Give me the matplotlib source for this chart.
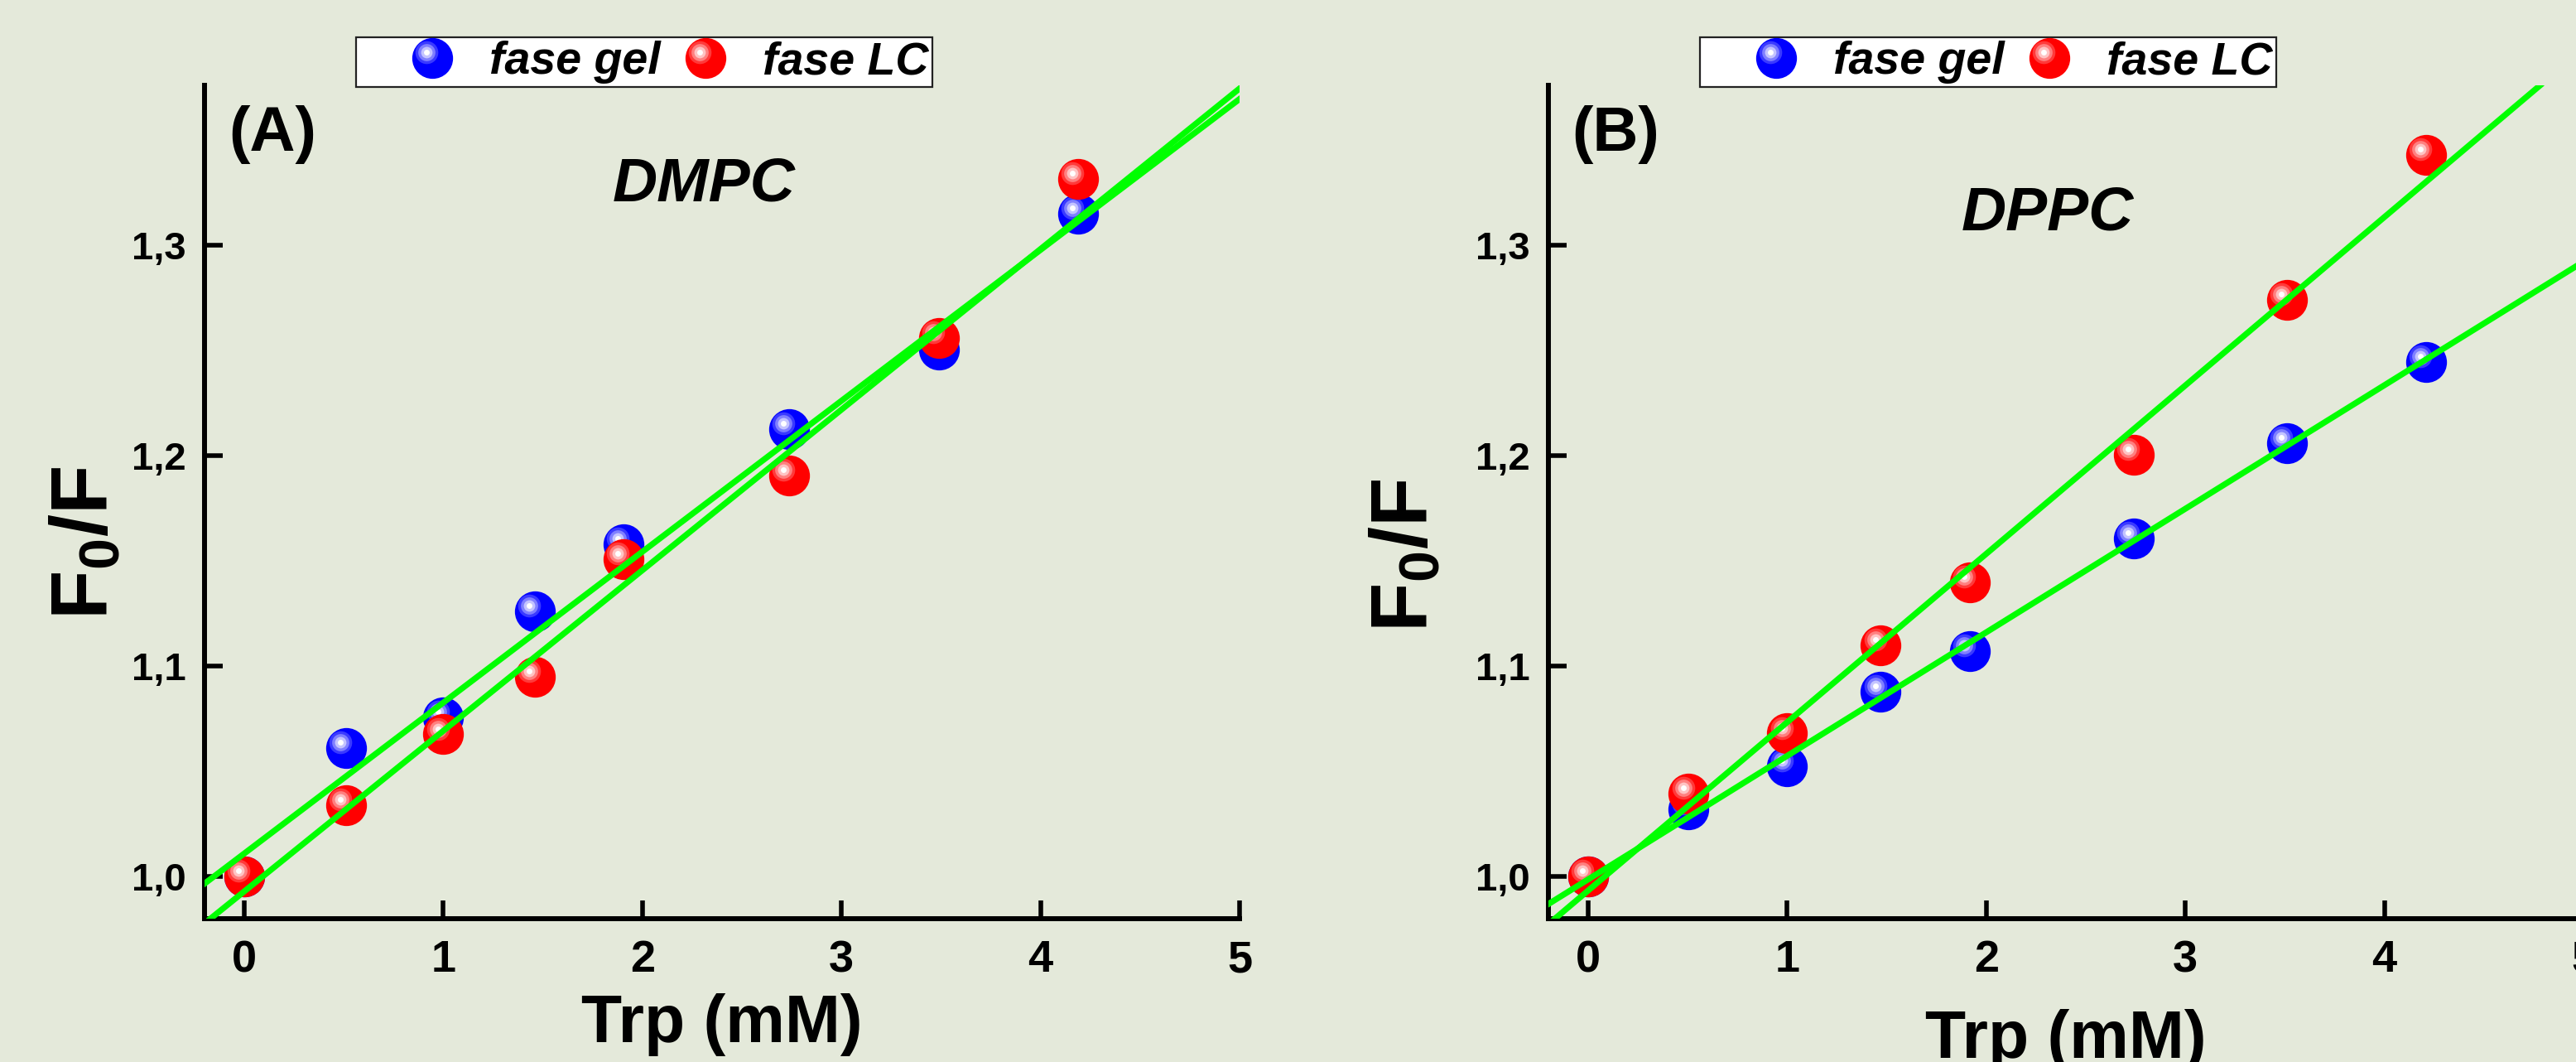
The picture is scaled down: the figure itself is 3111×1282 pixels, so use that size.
import matplotlib
matplotlib.use('Agg')
import matplotlib.pyplot as plt
from matplotlib.lines import Line2D
from matplotlib.legend_handler import HandlerBase
from matplotlib.transforms import offset_copy

plt.rcParams['font.family'] = ['Liberation Sans', 'DejaVu Sans']
plt.rcParams['mathtext.fontset'] = 'custom'
plt.rcParams['mathtext.rm'] = 'Liberation Sans:bold'
plt.rcParams['mathtext.bf'] = 'Liberation Sans:bold'
plt.rcParams['mathtext.it'] = 'Liberation Sans:bold:italic'

# ---------------- data ----------------
trp_A = [0.0, 0.51, 1.0, 1.46, 1.905, 2.735, 3.49, 4.19]
gel_A = [1.0, 1.061, 1.0757, 1.126, 1.158, 1.2125, 1.2505, 1.315]
lc_A = [1.0, 1.034, 1.0676, 1.095, 1.151, 1.1906, 1.2558, 1.3316]

trp_B = [0.0, 0.505, 1.0, 1.47, 1.916, 2.74, 3.51, 4.21]
gel_B = [1.0, 1.032, 1.0525, 1.088, 1.107, 1.1607, 1.206, 1.2447]
lc_B = [1.0, 1.0396, 1.068, 1.110, 1.140, 1.2006, 1.274, 1.343]

# linear fits (intercept, slope)
fit_A_gel = (1.011, 0.0717)
fit_A_lc = (0.993, 0.0763)
fit_B_gel = (0.9987, 0.0587)
fit_B_lc = (0.9934, 0.0800)

xticks = [0, 1, 2, 3, 4, 5]
xtick_labels = ['0', '1', '2', '3', '4', '5']
yticks = [1.0, 1.1, 1.2, 1.3]
ytick_labels = ['1,0', '1,1', '1,2', '1,3']
series_names = ['fase gel', 'fase LC']
panel_tags = ['(A)', '(B)']
lipids = ['DMPC', 'DPPC']
xlabel = 'Trp (mM)'
ylabel = r'$\mathbf{F_0/F}$'

# ---------------- style ----------------
BG = '#e4e9da'
GREEN = '#00ff00'
BLUE_SHADES = ['#0000ff', '#3a3aff', '#8080ff', '#c4c4ff', '#ffffff']
RED_SHADES = ['#ff0000', '#ff3a3a', '#ff8080', '#ffc4c4', '#ffffff']
BALL = 35.5            # marker diameter in points
LAYER_FR = [0.56, 0.42, 0.28, 0.14]
HL_OFF = 0.14          # highlight offset (fraction of diameter)

W, H = 3111, 1282
fig = plt.figure(figsize=(W / 100, H / 100), dpi=100)
fig.patch.set_facecolor(BG)


def draw_balls(ax, x, y, shades, z):
    ax.plot(x, y, ls='none', marker='o', ms=BALL, mfc=shades[0], mec='none', zorder=z)
    tr = offset_copy(ax.transData, fig=ax.figure, x=-HL_OFF * BALL, y=HL_OFF * BALL, units='points')
    for k, (fr, col) in enumerate(zip(LAYER_FR, shades[1:])):
        ax.plot(x, y, ls='none', marker='o', ms=BALL * fr, mfc=col, mec='none',
                transform=tr, zorder=z + 0.01 * (k + 1))


class BallHandler(HandlerBase):
    def __init__(self, shades, **kw):
        super().__init__(**kw)
        self.shades = shades

    def create_artists(self, legend, orig_handle, xdescent, ydescent, width, height, fontsize, trans):
        cx = -xdescent + 0.6 * width
        cy = -ydescent + height / 2
        arts = [Line2D([cx], [cy], ls='none', marker='o', ms=BALL, mfc=self.shades[0], mec='none', transform=trans)]
        for fr, col in zip(LAYER_FR, self.shades[1:]):
            arts.append(Line2D([cx - HL_OFF * BALL], [cy + HL_OFF * BALL], ls='none', marker='o',
                               ms=BALL * fr, mfc=col, mec='none', transform=trans))
        return arts


def style_axes(ax, tag, lipid, lipid_y, xlab_y, ylab_xy):
    ax.set_facecolor('none')
    ax.set_xlim(-0.2, 5.0)
    ax.set_ylim(0.98, 1.376)
    for s in ['top', 'right']:
        ax.spines[s].set_visible(False)
    for s in ['left', 'bottom']:
        ax.spines[s].set_linewidth(4.3)
        ax.spines[s].set_color('black')
    ax.set_xticks(xticks, xtick_labels, fontsize=39, fontweight='bold')
    ax.set_yticks(yticks, ytick_labels, fontsize=34, fontweight='bold')
    ax.tick_params(axis='x', direction='in', length=16, width=4, pad=18)
    ax.tick_params(axis='y', direction='in', length=16, width=4, pad=16)
    ax.set_xlabel(xlabel, fontsize=58, fontweight='bold')
    ax.xaxis.set_label_coords(0.5, xlab_y)
    ax.set_ylabel(ylabel, fontsize=70)
    ax.yaxis.set_label_coords(*ylab_xy)
    ax.text(0.023, 0.976, tag, transform=ax.transAxes, ha='left', va='top',
            fontsize=55, fontweight='bold')
    ax.text(0.4824, lipid_y, lipid, transform=ax.transAxes, ha='center', va='baseline',
            fontsize=54, fontweight='bold', fontstyle='italic')
    h_gel = Line2D([], [])
    h_lc = Line2D([], [])
    leg = ax.legend([h_gel, h_lc], series_names, ncol=2, loc='center',
                    bbox_to_anchor=(0.4248, 1.0278), bbox_transform=ax.transAxes,
                    handler_map={h_gel: BallHandler(BLUE_SHADES), h_lc: BallHandler(RED_SHADES)},
                    prop=dict(family='Liberation Sans', weight='bold', style='italic', size=40),
                    handlelength=2.62, handletextpad=0.2, columnspacing=-0.6,
                    borderpad=0.08, frameon=True, fancybox=False, framealpha=1,
                    facecolor='white', edgecolor='#222222')
    leg.get_frame().set_linewidth(1.6)
    leg.set_zorder(10)


axA = fig.add_axes([247 / W, (H - 1109) / H, 1250 / W, 1006 / H])
axB = fig.add_axes([1870 / W, (H - 1109) / H, 1250 / W, 1006 / H])

draw_balls(axA, trp_A, gel_A, BLUE_SHADES, 3)
draw_balls(axA, trp_A, lc_A, RED_SHADES, 4)
for b, m in [fit_A_gel, fit_A_lc]:
    axA.axline((0, b), slope=m, color=GREEN, lw=5.2, zorder=6)

draw_balls(axB, trp_B, gel_B, BLUE_SHADES, 3)
draw_balls(axB, trp_B, lc_B, RED_SHADES, 4)
for b, m in [fit_B_gel, fit_B_lc]:
    axB.axline((0, b), slope=m, color=GREEN, lw=5.2, zorder=6)

style_axes(axA, panel_tags[0], lipids[0], 0.8618, -0.0895, (-0.0784, 0.4513))
style_axes(axB, panel_tags[1], lipids[1], 0.827, -0.108, (-0.1016, 0.4364))

fig.savefig('out.png', dpi=100, facecolor=BG)
